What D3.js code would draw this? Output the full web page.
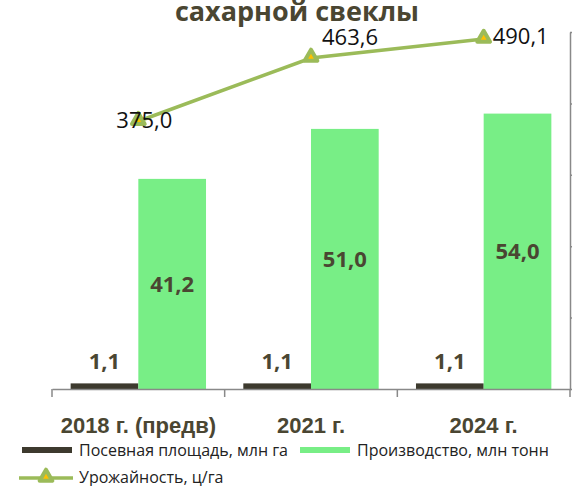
<!DOCTYPE html>
<html lang="ru">
<head>
<meta charset="UTF-8">
<script src="https://d3js.org/d3.v7.min.js"></script>
<style>
  body { margin: 0; background: #fff; }
  svg { display: block; font-family: "Open Sans", "Noto Sans", sans-serif; }
</style>
</head>
<body>
<div id="chart"></div>
<script>
var categories = ["2018 г. (предв)", "2021 г.", "2024 г."];
var areaValues = [1.1, 1.1, 1.1];          // Посевная площадь, млн га
var productionValues = [41.2, 51.0, 54.0]; // Производство, млн тонн
var yieldValues = [375.0, 463.6, 490.1];   // Урожайность, ц/га
var seriesNames = ["Посевная площадь, млн га", "Производство, млн тонн", "Урожайность, ц/га"];

var W = 572, H = 486;
var plot = { left: 52, right: 570, top: 32, bottom: 389 };
var textColor = "#4a4632";
var darkColor = "#3d3a2e";
var greenColor = "#78ee86";
var lineColor = "#9bbb59";
var markerFill = "#ffc000";
var fmt = function (v) { return d3.format(".1f")(v).replace(".", ","); };

var svg = d3.select("#chart").append("svg")
    .attr("width", W).attr("height", H);

var x = d3.scaleBand()
    .domain(categories)
    .range([plot.left, plot.right])
    .paddingInner(0)
    .paddingOuter(0);

var gap = 0.108; // share of category left empty on each side
var barW = x.bandwidth() * (1 - 2 * gap) / 2;

var yBar = d3.scaleLinear().domain([0, 70]).range([plot.bottom, plot.top]);
var yLine = d3.scaleLinear().domain([0, 500]).range([plot.bottom, plot.top]);

// title (only its second line is visible)
svg.append("text")
    .attr("x", 297).attr("y", 21)
    .attr("text-anchor", "middle")
    .attr("fill", textColor)
    .style("font-size", "27px").style("font-weight", "bold")
    .text("сахарной свеклы");

// bars
var groups = svg.append("g").selectAll("g")
    .data(categories).enter().append("g");

groups.append("rect")
    .attr("x", function (d) { return x(d) + x.bandwidth() * gap; })
    .attr("y", function (d, i) { return yBar(areaValues[i]); })
    .attr("width", barW)
    .attr("height", function (d, i) { return plot.bottom - yBar(areaValues[i]); })
    .attr("fill", darkColor);

groups.append("rect")
    .attr("x", function (d) { return x(d) + x.bandwidth() * gap + barW; })
    .attr("y", function (d, i) { return yBar(productionValues[i]); })
    .attr("width", barW)
    .attr("height", function (d, i) { return plot.bottom - yBar(productionValues[i]); })
    .attr("fill", greenColor);

groups.append("text")
    .attr("x", function (d) { return x(d) + x.bandwidth() * gap + barW / 2; })
    .attr("y", function (d, i) { return yBar(areaValues[i]) - 14; })
    .attr("text-anchor", "middle")
    .attr("fill", textColor)
    .style("font-size", "22px").style("font-weight", "bold")
    .text(function (d, i) { return fmt(areaValues[i]); });

groups.append("text")
    .attr("x", function (d) { return x(d) + x.bandwidth() * gap + barW * 1.5; })
    .attr("y", function (d, i) { return (yBar(productionValues[i]) + plot.bottom) / 2; })
    .attr("dy", "0.35em")
    .attr("text-anchor", "middle")
    .attr("fill", textColor)
    .style("font-size", "22px").style("font-weight", "bold")
    .text(function (d, i) { return fmt(productionValues[i]); });

// axes
var xAxis = svg.append("g")
    .attr("transform", "translate(0," + plot.bottom + ")")
    .call(d3.axisBottom(x).tickSize(0).tickFormat(""));
xAxis.select(".domain").attr("stroke", "#898989").attr("stroke-width", 1.5);
xAxis.selectAll(".tick").remove();
xAxis.selectAll(".bound")
    .data([plot.left].concat(categories.map(function (d) { return x(d) + x.bandwidth(); })))
    .enter().append("line")
    .attr("x1", function (d) { return d; }).attr("x2", function (d) { return d; })
    .attr("y1", 0).attr("y2", 8)
    .attr("stroke", "#898989").attr("stroke-width", 1.5);

xAxis.selectAll(".cat")
    .data(categories).enter().append("text")
    .attr("x", function (d) { return x(d) + x.bandwidth() / 2; })
    .attr("y", 44)
    .attr("text-anchor", "middle")
    .attr("fill", textColor)
    .style("font-size", "22px").style("font-weight", "bold")
    .text(function (d) { return d; });

var rAxis = svg.append("g")
    .attr("transform", "translate(" + plot.right + ",0)")
    .call(d3.axisRight(yLine).ticks(5).tickSizeOuter(0).tickSizeInner(5).tickFormat(""));
rAxis.select(".domain").attr("stroke", "#898989").attr("stroke-width", 1.5);
rAxis.selectAll(".tick line").attr("stroke", "#898989").attr("stroke-width", 1.5);

// yield line
var cx = function (i) { return x(categories[i]) + x.bandwidth() / 2; };
var line = d3.line()
    .x(function (d, i) { return cx(i); })
    .y(function (d) { return yLine(d); });

svg.append("path")
    .datum(yieldValues)
    .attr("d", line)
    .attr("fill", "none")
    .attr("stroke", lineColor)
    .attr("stroke-width", 3.5);

var tri = d3.symbol().type(d3.symbolTriangle).size(70);
svg.append("g").selectAll("path")
    .data(yieldValues).enter().append("path")
    .attr("d", tri)
    .attr("transform", function (d, i) { return "translate(" + cx(i) + "," + (yLine(d) - 1) + ")"; })
    .attr("fill", markerFill)
    .attr("stroke", lineColor)
    .attr("stroke-width", 4)
    .attr("stroke-linejoin", "round");

var lblOffset = [[6, 7], [39, -13], [37, 5]];
svg.append("g").selectAll("text")
    .data(yieldValues).enter().append("text")
    .attr("x", function (d, i) { return cx(i) + lblOffset[i][0]; })
    .attr("y", function (d, i) { return yLine(d) + lblOffset[i][1]; })
    .attr("text-anchor", "middle")
    .attr("fill", "#111")
    .style("font-size", "22px")
    .text(function (d) { return fmt(d); });

// legend
var leg = svg.append("g").style("font-size", "16px").attr("fill", "#222");
leg.append("rect").attr("x", 22).attr("y", 447).attr("width", 50).attr("height", 6).attr("fill", darkColor);
leg.append("text").attr("x", 79).attr("y", 456).text(seriesNames[0]);
leg.append("rect").attr("x", 300).attr("y", 447).attr("width", 50).attr("height", 6).attr("fill", greenColor);
leg.append("text").attr("x", 357).attr("y", 456).text(seriesNames[1]);
leg.append("line").attr("x1", 19).attr("x2", 73).attr("y1", 478).attr("y2", 478)
    .attr("stroke", lineColor).attr("stroke-width", 3.5);
leg.append("path").attr("d", tri)
    .attr("transform", "translate(46,477)")
    .attr("fill", markerFill).attr("stroke", lineColor)
    .attr("stroke-width", 4).attr("stroke-linejoin", "round");
leg.append("text").attr("x", 79).attr("y", 483).text(seriesNames[2]);
</script>
</body>
</html>
